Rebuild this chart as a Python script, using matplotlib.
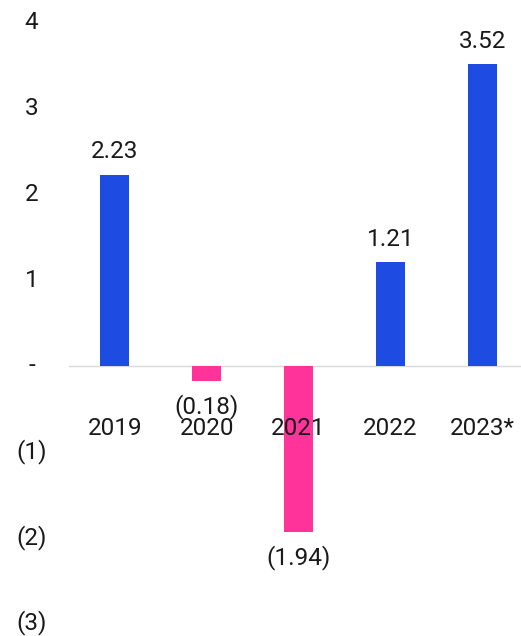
import matplotlib
matplotlib.use("Agg")

import matplotlib.pyplot as plt
import numpy as np

years = ["2019", "2020", "2021", "2022", "2023*"]
values = [2.23, -0.18, -1.94, 1.21, 3.52]
y_ticks = [-3, -2, -1, 0, 1, 2, 3, 4]
y_tick_labels = ["(3)", "(2)", "(1)", "-", "1", "2", "3", "4"]

BLUE = "#1E4BE2"
PINK = "#FF3399"
TEXT = "#1a1a1a"


def fmt(v):
    return f"({abs(v):.2f})" if v < 0 else f"{v:.2f}"


plt.rcParams["font.family"] = ["Roboto", "DejaVu Sans"]

fig = plt.figure(figsize=(5.21, 6.36), dpi=100)
W, H = 521, 636
# axes box in pixels: x 69..521, y 22.8 (top, value 4) .. 623 (bottom, value -3)
ax = fig.add_axes([69 / W, (H - 623) / H, (W - 69) / W, (623 - 22.8) / H])

x = np.arange(len(years))
colors = [BLUE if v >= 0 else PINK for v in values]
ax.bar(x, values, width=0.315, color=colors, zorder=3)
ax.axhline(0, color="#d9d9d9", linewidth=1.0, zorder=2)

ax.set_xlim(-0.5, 4.42)
ax.set_ylim(-3, 4)

for i, v in enumerate(values):
    off = 8 if v >= 0 else -9
    ax.annotate(fmt(v), (i, v), xytext=(0, off), textcoords="offset points",
                ha="center", va="bottom" if v >= 0 else "top",
                fontsize=17.5, color=TEXT, zorder=4)

# category labels sit inside the plot, just under the zero line, over the bars
for i, name in enumerate(years):
    ax.annotate(name, (i, 0), xytext=(0, -45), textcoords="offset points",
                ha="center", va="center", fontsize=17.5, color=TEXT, zorder=5)

ax.set_yticks(y_ticks)
ax.set_yticklabels(y_tick_labels, fontsize=17.5, color=TEXT, ha="center",
                   va="center")
ax.tick_params(axis="y", length=0, pad=27)
ax.set_xticks([])
for s in ax.spines.values():
    s.set_visible(False)

fig.savefig("out.png", dpi=100)
